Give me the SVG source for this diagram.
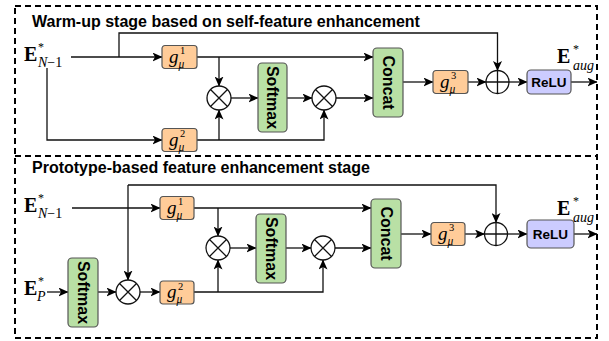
<svg xmlns="http://www.w3.org/2000/svg" width="609" height="341" viewBox="0 0 609 341">
<style>
.border{fill:none;stroke:#000;stroke-width:2;stroke-dasharray:6,4}
.title{font-family:"Liberation Sans",Arial,sans-serif;font-weight:bold;font-size:16px;fill:#000}
.ln{fill:none;stroke:#111;stroke-width:1.3}
.arr{marker-end:url(#ah)}
.g{fill:#FFCC99;stroke:#555;stroke-width:1.2}
.grn{fill:#B9E0A5;stroke:#555;stroke-width:1.2}
.blu{fill:#CCCCFF;stroke:#555;stroke-width:1.2}
.op{fill:#fff;stroke:#111;stroke-width:1.3}
.bt{font-family:"Liberation Sans",Arial,sans-serif;font-weight:bold;font-size:16px;fill:#000}
.rl{font-family:"Liberation Sans",Arial,sans-serif;font-weight:bold;font-size:13.5px;fill:#000}
.E{font-family:"Liberation Serif","Times New Roman",serif;font-weight:bold;font-size:20px;fill:#000}
.gs{font-family:"Liberation Serif","Times New Roman",serif;font-style:italic;font-size:19px;fill:#000}
.sup{font-family:"Liberation Serif","Times New Roman",serif;font-size:10.5px;fill:#000}
.mu{font-family:"Liberation Serif","Times New Roman",serif;font-style:italic;font-size:11.5px;fill:#000}
.sub{font-family:"Liberation Serif","Times New Roman",serif;font-style:italic;font-size:14px;fill:#000}
.star{font-family:"Liberation Serif","Times New Roman",serif;font-size:12px;fill:#000}
</style>
<defs>
<marker id="ah" markerUnits="userSpaceOnUse" markerWidth="10" markerHeight="9" refX="9.5" refY="4.5" orient="auto">
<path d="M0,0 L10,4.5 L0,9 L2.5,4.5 z" fill="#000"/>
</marker>
</defs>

<g id="borders">
<rect class="border" x="15" y="6" width="582" height="332"/>
<line class="border" x1="15" y1="156" x2="597" y2="156"/>
</g>

<text class="title" x="32" y="27">Warm-up stage based on self-feature enhancement</text>
<text class="title" x="32" y="173">Prototype-based feature enhancement stage</text>

<g id="connectors">
<path class="ln arr" d="M71,57 L162,57"/>
<path class="ln arr" d="M119,57 L119,33 L497.5,33 L497.5,70.5"/>
<path class="ln arr" d="M47,68 L47,140 L162,140"/>
<path class="ln arr" d="M197,57 L373,57"/>
<path class="ln arr" d="M219,57 L219,86"/>
<path class="ln arr" d="M197,140 L324,140 L324,110"/>
<path class="ln arr" d="M219,140 L219,110"/>
<path class="ln arr" d="M231,98 L258,98"/>
<path class="ln arr" d="M287,98 L312,98"/>
<path class="ln arr" d="M336,98 L373,98"/>
<path class="ln arr" d="M403,82 L433,82"/>
<path class="ln arr" d="M468,82 L486,82"/>
<path class="ln arr" d="M509,82 L527,82"/>
<path class="ln arr" d="M571,82 L597,82"/>
<path class="ln arr" d="M72,208 L160,208"/>
<path class="ln arr" d="M128,185 L496,185 L496,222.5"/>
<path class="ln arr" d="M128,185 L128,280"/>
<path class="ln arr" d="M47,292 L68,292"/>
<path class="ln arr" d="M98,292 L116,292"/>
<path class="ln arr" d="M140,292 L160,292"/>
<path class="ln arr" d="M194,208 L371,208"/>
<path class="ln arr" d="M218,208 L218,236"/>
<path class="ln arr" d="M194,292 L323,292 L323,260"/>
<path class="ln arr" d="M218,292 L218,260"/>
<path class="ln arr" d="M230,248 L256,248"/>
<path class="ln arr" d="M286,248 L311,248"/>
<path class="ln arr" d="M335,248 L371,248"/>
<path class="ln arr" d="M401,234 L431,234"/>
<path class="ln arr" d="M465,234 L484.5,234"/>
<path class="ln arr" d="M507.5,234 L527,234"/>
<path class="ln arr" d="M574,234 L597,234"/>
</g>

<g id="in1">
<text class="E" x="24" y="61">E</text>
<text class="star" x="38" y="51">*</text>
<text class="sub" x="38" y="67">N<tspan font-style="normal">−1</tspan></text>
</g>
<g id="g1a" transform="translate(162,45.5)">
<rect class="g" x="0" y="0" width="35" height="23" rx="3"/>
<text class="gs" x="7" y="17">g</text>
<text class="sup" x="18" y="8.5">1</text>
<text class="mu" x="16.5" y="22">μ</text>
</g>
<g id="g2a" transform="translate(162,128.5)">
<rect class="g" x="0" y="0" width="35" height="23" rx="3"/>
<text class="gs" x="7" y="17">g</text>
<text class="sup" x="18" y="8.5">2</text>
<text class="mu" x="16.5" y="22">μ</text>
</g>
<g id="mul1a">
<circle class="op" cx="219" cy="98" r="12"/>
<path class="ln" d="M210.5,89.5 L227.5,106.5 M227.5,89.5 L210.5,106.5"/>
</g>
<g id="softa">
<rect class="grn" x="258" y="63" width="29" height="69" rx="4"/>
<text class="bt" transform="translate(267,97.5) rotate(90)" text-anchor="middle">Softmax</text>
</g>
<g id="mul2a">
<circle class="op" cx="324" cy="98" r="12"/>
<path class="ln" d="M315.5,89.5 L332.5,106.5 M332.5,89.5 L315.5,106.5"/>
</g>
<g id="concata">
<rect class="grn" x="373" y="48" width="30" height="69" rx="4"/>
<text class="bt" transform="translate(382.5,82.5) rotate(90)" text-anchor="middle">Concat</text>
</g>
<g id="g3a" transform="translate(433,70.5)">
<rect class="g" x="0" y="0" width="35" height="23" rx="3"/>
<text class="gs" x="7" y="17">g</text>
<text class="sup" x="18" y="8.5">3</text>
<text class="mu" x="16.5" y="22">μ</text>
</g>
<g id="adda">
<circle class="op" cx="497.5" cy="82" r="11.5"/>
<path class="ln" d="M486,82 L509,82 M497.5,70.5 L497.5,93.5"/>
</g>
<g id="relua">
<rect class="blu" x="527" y="70" width="44" height="24" rx="4"/>
<text class="rl" x="549" y="87" text-anchor="middle">ReLU</text>
</g>
<g id="outa">
<text class="E" x="557" y="63">E</text>
<text class="star" x="573" y="53">*</text>
<text class="sub" x="573" y="70">aug</text>
</g>

<g id="in2">
<text class="E" x="24" y="212">E</text>
<text class="star" x="38" y="202">*</text>
<text class="sub" x="38" y="218">N<tspan font-style="normal">−1</tspan></text>
</g>
<g id="inP">
<text class="E" x="24" y="295">E</text>
<text class="star" x="38" y="285">*</text>
<text class="sub" x="37" y="301">P</text>
</g>
<g id="softp">
<rect class="grn" x="68" y="258" width="30" height="69" rx="4"/>
<text class="bt" transform="translate(77.5,292.5) rotate(90)" text-anchor="middle">Softmax</text>
</g>
<g id="mulp">
<circle class="op" cx="128" cy="292" r="12"/>
<path class="ln" d="M119.5,283.5 L136.5,300.5 M136.5,283.5 L119.5,300.5"/>
</g>
<g id="g1b" transform="translate(160,196.5)">
<rect class="g" x="0" y="0" width="34" height="23" rx="3"/>
<text class="gs" x="7" y="17">g</text>
<text class="sup" x="18" y="8.5">1</text>
<text class="mu" x="16.5" y="22">μ</text>
</g>
<g id="g2b" transform="translate(160,281)">
<rect class="g" x="0" y="0" width="34" height="23" rx="3"/>
<text class="gs" x="7" y="17">g</text>
<text class="sup" x="18" y="8.5">2</text>
<text class="mu" x="16.5" y="22">μ</text>
</g>
<g id="mul1b">
<circle class="op" cx="218" cy="248" r="12"/>
<path class="ln" d="M209.5,239.5 L226.5,256.5 M226.5,239.5 L209.5,256.5"/>
</g>
<g id="softb">
<rect class="grn" x="256" y="214" width="30" height="69" rx="4"/>
<text class="bt" transform="translate(265.5,248.5) rotate(90)" text-anchor="middle">Softmax</text>
</g>
<g id="mul2b">
<circle class="op" cx="323" cy="248" r="12"/>
<path class="ln" d="M314.5,239.5 L331.5,256.5 M331.5,239.5 L314.5,256.5"/>
</g>
<g id="concatb">
<rect class="grn" x="371" y="199" width="30" height="69" rx="4"/>
<text class="bt" transform="translate(380.5,233.5) rotate(90)" text-anchor="middle">Concat</text>
</g>
<g id="g3b" transform="translate(431,222.5)">
<rect class="g" x="0" y="0" width="34" height="23" rx="3"/>
<text class="gs" x="7" y="17">g</text>
<text class="sup" x="18" y="8.5">3</text>
<text class="mu" x="16.5" y="22">μ</text>
</g>
<g id="addb">
<circle class="op" cx="496" cy="234" r="11.5"/>
<path class="ln" d="M484.5,234 L507.5,234 M496,222.5 L496,245.5"/>
</g>
<g id="relub">
<rect class="blu" x="527" y="220" width="47" height="28" rx="4"/>
<text class="rl" x="550.5" y="239" text-anchor="middle">ReLU</text>
</g>
<g id="outb">
<text class="E" x="557" y="215">E</text>
<text class="star" x="573" y="205">*</text>
<text class="sub" x="573" y="222">aug</text>
</g>
</svg>
